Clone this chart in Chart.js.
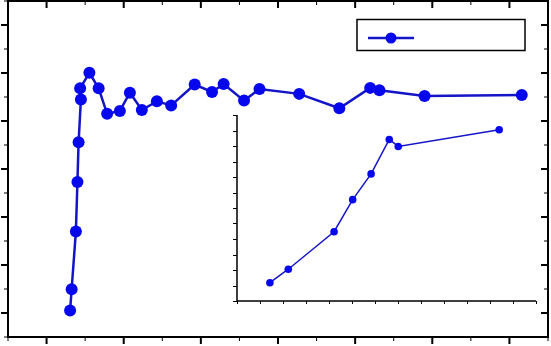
<!DOCTYPE html>
<html>
<head>
<meta charset="utf-8">
<script src="https://cdn.jsdelivr.net/npm/chart.js@4/dist/chart.umd.min.js"></script>
<style>
  html, body { margin: 0; padding: 0; background: #fff; }
  #wrap { position: relative; width: 551px; height: 346px; }
  #mainCanvas { position: absolute; left: 0; top: 0; }
  #insetCanvas { position: absolute; left: 230px; top: 110px; }
</style>
</head>
<body>
<div id="wrap">
  <canvas id="mainCanvas" width="551" height="346"></canvas>
  <canvas id="insetCanvas" width="310" height="200"></canvas>
</div>
<script>
// main series
const mainX = [1.61, 1.65, 1.76, 1.80, 1.83, 1.89, 1.87, 2.11, 2.35, 2.57, 2.90, 3.16, 3.47,
               3.86, 4.23, 4.84, 5.29, 5.59, 6.12, 6.52, 7.55, 8.59, 9.39, 9.63, 10.80, 13.32];
const mainY = [1.10, 1.99, 4.40, 6.46, 8.11, 9.90, 10.36, 11.01, 10.36, 9.30, 9.42, 10.18, 9.46,
               9.82, 9.65, 10.52, 10.21, 10.54, 9.85, 10.33, 10.13, 9.53, 10.38, 10.28, 10.04, 10.08];

// inset series
const insetX = [1.43, 2.23, 4.22, 5.03, 5.83, 6.62, 7.01, 11.40];
const insetY = [1.18, 2.05, 4.47, 6.54, 8.20, 10.42, 9.97, 11.05];

// axis ranges / ticks
const mainXRange = [0, 14];
const mainYRange = [0, 14];
const insetXRange = [0, 13];
const insetYRange = [0, 12];

const lineColor = '#1515c8';
const markColor = '#0707ee';

function toPoints(xs, ys) {
    return xs.map((x, i) => ({ x: x, y: ys[i] }));
}

function range(a, b) {
    const out = [];
    for (let v = a; v <= b; v++) out.push(v);
    return out;
}

// draws the frame and the tick marks of the main plot
const mainFramePlugin = {
    id: 'mainFrame',
    afterDraw(chart) {
        const { ctx, chartArea: a, scales } = chart;
        ctx.save();
        ctx.strokeStyle = '#000';
        ctx.lineCap = 'butt';
        ctx.lineWidth = 2;
        ctx.strokeRect(a.left, a.top, a.right - a.left, a.bottom - a.top);

        range(mainXRange[0], mainXRange[1]).forEach(v => {
            const px = scales.x.getPixelForValue(v);
            const major = v % 2 === 1;
            const len = major ? 7 : 4;
            ctx.lineWidth = major ? 2 : 1;
            ctx.beginPath();
            ctx.moveTo(px, a.bottom); ctx.lineTo(px, a.bottom + len);   // bottom, outward
            ctx.moveTo(px, a.top); ctx.lineTo(px, a.top + len);         // top, inward
            ctx.stroke();
        });
        range(mainYRange[0], mainYRange[1]).forEach(v => {
            const py = scales.y.getPixelForValue(v);
            const major = v % 2 === 1;
            const len = major ? 7 : 4;
            ctx.lineWidth = major ? 2 : 1;
            ctx.beginPath();
            ctx.moveTo(a.left - len, py); ctx.lineTo(a.left, py);       // left, outward
            ctx.moveTo(a.right - len, py); ctx.lineTo(a.right, py);     // right, inward
            ctx.stroke();
        });
        ctx.restore();
    }
};

// legend box with sample line and marker, no text
const legendBoxPlugin = {
    id: 'legendBox',
    afterDraw(chart) {
        const ctx = chart.ctx;
        ctx.save();
        ctx.strokeStyle = '#000';
        ctx.lineWidth = 1.5;
        ctx.strokeRect(357, 19.5, 168, 31);
        ctx.strokeStyle = lineColor;
        ctx.lineWidth = 2.5;
        ctx.beginPath();
        ctx.moveTo(368, 38); ctx.lineTo(414, 38);
        ctx.stroke();
        ctx.fillStyle = markColor;
        ctx.beginPath();
        ctx.arc(391, 38, 5.5, 0, Math.PI * 2);
        ctx.fill();
        ctx.restore();
    }
};

// left and bottom axis lines of the inset with outward ticks
const insetAxesPlugin = {
    id: 'insetAxes',
    afterDraw(chart) {
        const { ctx, chartArea: a, scales } = chart;
        ctx.save();
        ctx.strokeStyle = '#000';
        ctx.lineWidth = 1.5;
        ctx.beginPath();
        ctx.moveTo(a.left, a.top); ctx.lineTo(a.left, a.bottom); ctx.lineTo(a.right, a.bottom);
        ctx.stroke();
        ctx.lineWidth = 1;
        ctx.beginPath();
        range(insetXRange[0], insetXRange[1]).forEach(v => {
            const px = Math.round(scales.x.getPixelForValue(v)) + 0.5;
            ctx.moveTo(px, a.bottom); ctx.lineTo(px, a.bottom + 3);
        });
        range(insetYRange[0], insetYRange[1]).forEach(v => {
            const py = Math.round(scales.y.getPixelForValue(v)) + 0.5;
            ctx.moveTo(a.left - 4, py); ctx.lineTo(a.left, py);
        });
        ctx.stroke();
        ctx.restore();
    }
};

function hiddenAxis(min, max) {
    return {
        type: 'linear',
        min: min,
        max: max,
        grid: { display: false, drawTicks: false },
        border: { display: false },
        ticks: { display: false }
    };
}

new Chart(document.getElementById('mainCanvas').getContext('2d'), {
    type: 'line',
    data: {
        datasets: [{
            data: toPoints(mainX, mainY),
            borderColor: lineColor,
            borderWidth: 2.5,
            pointRadius: 6,
            pointBackgroundColor: markColor,
            pointBorderWidth: 0,
            tension: 0
        }]
    },
    options: {
        responsive: false,
        devicePixelRatio: 1,
        animation: false,
        layout: { autoPadding: false, padding: { left: 8, top: 1, right: 3, bottom: 9 } },
        plugins: { legend: { display: false }, tooltip: { enabled: false } },
        scales: {
            x: hiddenAxis(mainXRange[0], mainXRange[1]),
            y: hiddenAxis(mainYRange[0], mainYRange[1])
        }
    },
    plugins: [mainFramePlugin, legendBoxPlugin]
});

new Chart(document.getElementById('insetCanvas').getContext('2d'), {
    type: 'line',
    data: {
        datasets: [{
            data: toPoints(insetX, insetY),
            borderColor: lineColor,
            borderWidth: 1.5,
            pointRadius: 3.8,
            pointBackgroundColor: markColor,
            pointBorderWidth: 0,
            tension: 0
        }]
    },
    options: {
        responsive: false,
        devicePixelRatio: 1,
        animation: false,
        layout: { autoPadding: false, padding: { left: 7, top: 5, right: 4, bottom: 9 } },
        plugins: { legend: { display: false }, tooltip: { enabled: false } },
        scales: {
            x: hiddenAxis(insetXRange[0], insetXRange[1]),
            y: hiddenAxis(insetYRange[0], insetYRange[1])
        }
    },
    plugins: [insetAxesPlugin]
});
</script>
</body>
</html>
